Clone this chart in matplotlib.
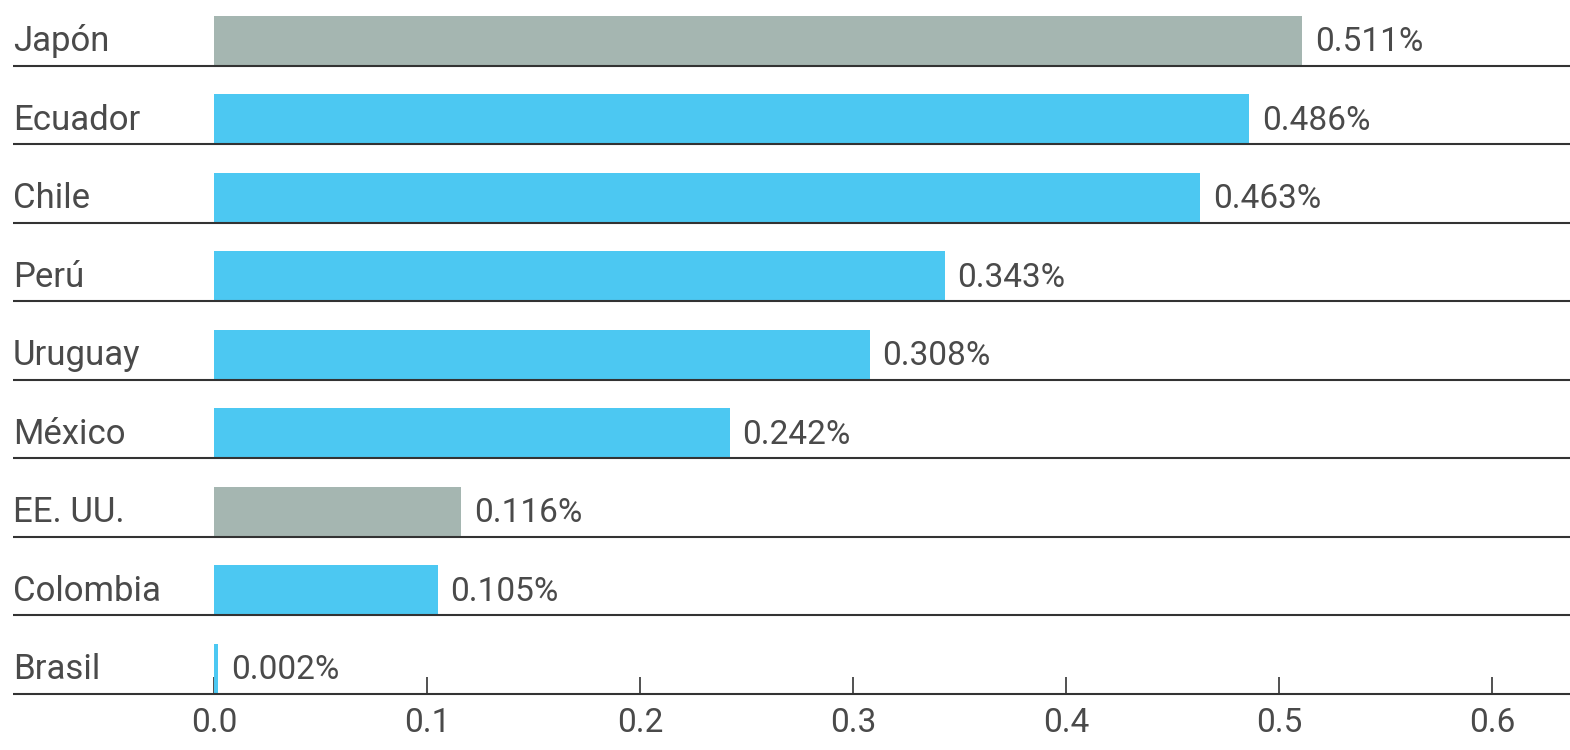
import matplotlib.pyplot as plt
import matplotlib.transforms as mtransforms

# --- data ---
countries = ["Japón", "Ecuador", "Chile", "Perú", "Uruguay",
             "México", "EE. UU.", "Colombia", "Brasil"]
values = [0.511, 0.486, 0.463, 0.343, 0.308, 0.242, 0.116, 0.105, 0.002]
highlight = [True, False, False, False, False, False, True, False, False]
xticks = [0.0, 0.1, 0.2, 0.3, 0.4, 0.5, 0.6]

BLUE = "#4cc8f2"
GRAY = "#a5b6b1"
TEXT = "#4a4a4a"
LINE = "#333333"

plt.rcParams["font.family"] = ["Roboto", "DejaVu Sans"]

fig = plt.figure(figsize=(15.7, 7.5), dpi=100)
ax = fig.add_axes([13 / 1570, 56 / 750, 1 - 13 / 1570, 694 / 750])

n = len(countries)
rows = list(range(n))
colors = [GRAY if h else BLUE for h in highlight]

# bars sit on the separator line of their row
bar_h = 0.64
ax.barh([r - bar_h / 2 for r in rows], values, height=bar_h,
        color=colors, zorder=2)

xmin, xmax = -0.0944, 0.6366
for r in rows:
    ax.hlines(r, xmin, xmax, color=LINE, lw=1.5, zorder=3, clip_on=False)

# labels left, values right of bars
trans = mtransforms.blended_transform_factory(ax.transAxes, ax.transData)
for r, name, v in zip(rows, countries, values):
    ax.text(0.0, r - 0.19, name, transform=trans, ha="left",
            va="baseline", fontsize=25, color=TEXT)
    ax.annotate(f"{v:.3f}%", (v, r - 0.19), xytext=(9, 0),
                textcoords="offset points", ha="left", va="baseline",
                fontsize=24, color=TEXT)

ax.set_xlim(xmin, xmax)
ax.set_ylim(n - 1, -0.84)
ax.set_xticks(xticks)
ax.set_xticklabels([f"{t:.1f}" for t in xticks])
ax.set_yticks([])
ax.tick_params(axis="x", direction="in", length=12, width=1.2,
               color=LINE, pad=9, labelsize=24, labelcolor=TEXT)
for s in ax.spines.values():
    s.set_visible(False)

fig.savefig("out.png", dpi=100)
